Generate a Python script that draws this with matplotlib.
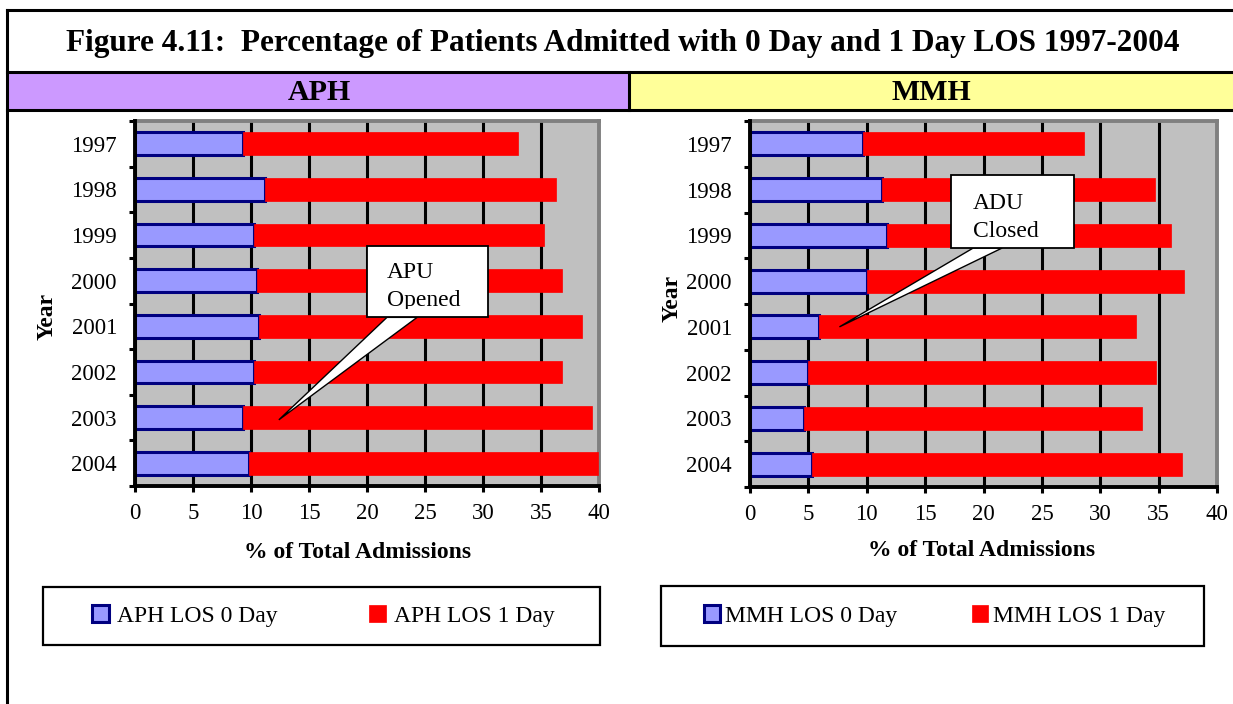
import numpy as np
import matplotlib
matplotlib.use('Agg')
import matplotlib.pyplot as plt
from matplotlib.patches import Rectangle, Polygon
from matplotlib.lines import Line2D
from matplotlib.transforms import Bbox, TransformedBbox

years = ['1997', '1998', '1999', '2000', '2001', '2002', '2003', '2004']

# % of total admissions
aph_los0 = [9.3, 11.2, 10.3, 10.5, 10.7, 10.3, 9.3, 9.8]
aph_los1 = [23.7, 25.1, 25.0, 26.3, 27.8, 26.5, 30.1, 30.1]
mmh_los0 = [9.7, 11.3, 11.7, 10.0, 5.9, 5.0, 4.65, 5.3]
mmh_los1 = [18.9, 23.4, 24.4, 27.2, 27.2, 29.8, 28.95, 31.7]

xticks = [0, 5, 10, 15, 20, 25, 30, 35, 40]

plt.rcParams['font.family'] = 'Liberation Serif'

W, H = 1233, 704
fig = plt.figure(figsize=(W / 100, H / 100), dpi=100)

def fx(px):
    return px / W

def fy(py):
    return 1 - py / H

# frame, title and header row
fig.add_artist(Rectangle((fx(7), fy(110)), fx(629) - fx(7), 38 / H,
                         facecolor='#CC99FF', edgecolor='none', transform=fig.transFigure))
fig.add_artist(Rectangle((fx(629), fy(110)), 1 - fx(629), 38 / H,
                         facecolor='#FFFF99', edgecolor='none', transform=fig.transFigure))
for yy in [10, 72, 110]:
    fig.add_artist(Line2D([fx(7), 1], [fy(yy), fy(yy)], color='black', lw=2.2,
                          transform=fig.transFigure))
fig.add_artist(Line2D([fx(7), fx(7)], [fy(10), 0], color='black', lw=2.2,
                      transform=fig.transFigure))
fig.add_artist(Line2D([fx(629), fx(629)], [fy(72), fy(110)], color='black', lw=2.2,
                      transform=fig.transFigure))

fig.text(fx(623), fy(43), 'Figure 4.11:  Percentage of Patients Admitted with 0 Day and 1 Day LOS 1997-2004',
         ha='center', va='center', fontsize=22.5, fontweight='bold')
fig.text(fx(319), fy(92), 'APH', ha='center', va='center', fontsize=21.5, fontweight='bold')
fig.text(fx(931), fy(92), 'MMH', ha='center', va='center', fontsize=21.5, fontweight='bold')


def draw_panel(rect, los0, los1, name, xlab_pos, ylab_pos, legbox, leg_spacing, leg_pad):
    ax = fig.add_axes(rect)
    ax.set_facecolor('#C0C0C0')
    y = np.arange(len(years))
    b0 = ax.barh(y, los0, height=0.5, color='#9999FF', edgecolor='#000080', linewidth=2.2,
                 label=name + ' LOS 0 Day', zorder=3)
    b1 = ax.barh(y, los1, left=los0, height=0.5, color='#FF0000', edgecolor='#FF0000',
                 linewidth=0.5, label=name + ' LOS 1 Day', zorder=3)
    ax.set_xlim(0, 40)
    ax.set_ylim(len(years) - 0.5, -0.5)
    ax.set_xticks(xticks)
    ax.set_yticks(y)
    ax.set_yticklabels(years)
    ax.set_yticks(np.arange(len(years) + 1) - 0.5, minor=True)
    ax.tick_params(axis='x', direction='out', length=4.5, width=2.2, pad=8, labelsize=16.5)
    ax.tick_params(axis='y', which='major', length=0, pad=13, labelsize=16.5)
    ax.tick_params(axis='y', which='minor', direction='out', length=4.5, width=2.2)
    ax.set_axisbelow(True)
    ax.xaxis.grid(True, color='black', lw=2.2)
    for s in ['left', 'bottom']:
        ax.spines[s].set_linewidth(2.8)
        ax.spines[s].set_color('black')
        ax.spines[s].set_zorder(4)
    for s in ['top', 'right']:
        ax.spines[s].set_linewidth(2.8)
        ax.spines[s].set_color('#808080')

    fig.text(fx(xlab_pos[0]), fy(xlab_pos[1]), '% of Total Admissions', ha='center', va='center',
             fontsize=17, fontweight='bold')
    fig.text(fx(ylab_pos[0]), fy(ylab_pos[1]), 'Year', ha='center', va='center', rotation=90,
             fontsize=17, fontweight='bold')

    x0, y0, x1, y1 = legbox
    fig.add_artist(Rectangle((fx(x0), fy(y1)), (x1 - x0) / W, (y1 - y0) / H, facecolor='white',
                             edgecolor='black', lw=1.6, transform=fig.transFigure))
    fig.legend(handles=[b0, b1], loc='center', ncol=2, frameon=False, fontsize=17,
               bbox_to_anchor=(fx((x0 + x1) / 2 + 2), fy((y0 + y1) / 2)),
               bbox_transform=fig.transFigure, handlelength=0.7, handleheight=0.7,
               handletextpad=leg_pad, columnspacing=leg_spacing, borderaxespad=0)
    return ax


def callout(ax, box, lines, base, tip, clip_bottom):
    bx0, by0, bx1, by1 = box
    tx, ty = (ax.transData + ax.transAxes.inverted()).transform(tip)
    wedge = Polygon([(base[0], by0), (tx, ty), (base[1], by0)], closed=True, facecolor='white',
                    edgecolor='black', lw=1.0, transform=ax.transAxes, zorder=6, clip_on=False)
    ax.add_patch(wedge)
    ax.add_patch(Rectangle((bx0, by0), bx1 - bx0, by1 - by0, facecolor='white', edgecolor='black',
                           lw=1.3, transform=ax.transAxes, zorder=7, clip_on=False))
    # text area inside the box is a bit smaller than the box itself
    clip = TransformedBbox(Bbox([[bx0, clip_bottom], [bx1, by1]]), ax.transAxes)
    for (lx, ly, s) in lines:
        t = ax.text(lx, ly, s, transform=ax.transAxes, fontsize=17, ha='left', va='baseline',
                    zorder=8)
        t.set_clip_box(clip)
        t.set_clip_on(True)


ax1 = draw_panel([fx(135), fy(486), (599 - 135) / W, (486 - 121) / H], aph_los0, aph_los1, 'APH',
                 (358, 553), (47, 316), (43, 587, 600, 645), 3.9, 0.33)
ax2 = draw_panel([fx(750), fy(487), (1217 - 750) / W, (487 - 121) / H], mmh_los0, mmh_los1, 'MMH',
                 (982, 551), (672, 298), (661, 586, 1204, 646), 3.15, 0.2)

callout(ax1, (0.50, 0.462, 0.761, 0.658),
        [(0.543, 0.569, 'APU'), (0.543, 0.4945, 'Opened')],
        (0.543, 0.608), (12.4, 6.05), 0.486)
callout(ax2, (0.431, 0.653, 0.694, 0.852),
        [(0.4775, 0.76, 'ADU'), (0.4775, 0.684, 'Closed')],
        (0.478, 0.54), (7.66, 4.0), 0.66)

plt.savefig('out.png', dpi=100)
plt.close()
